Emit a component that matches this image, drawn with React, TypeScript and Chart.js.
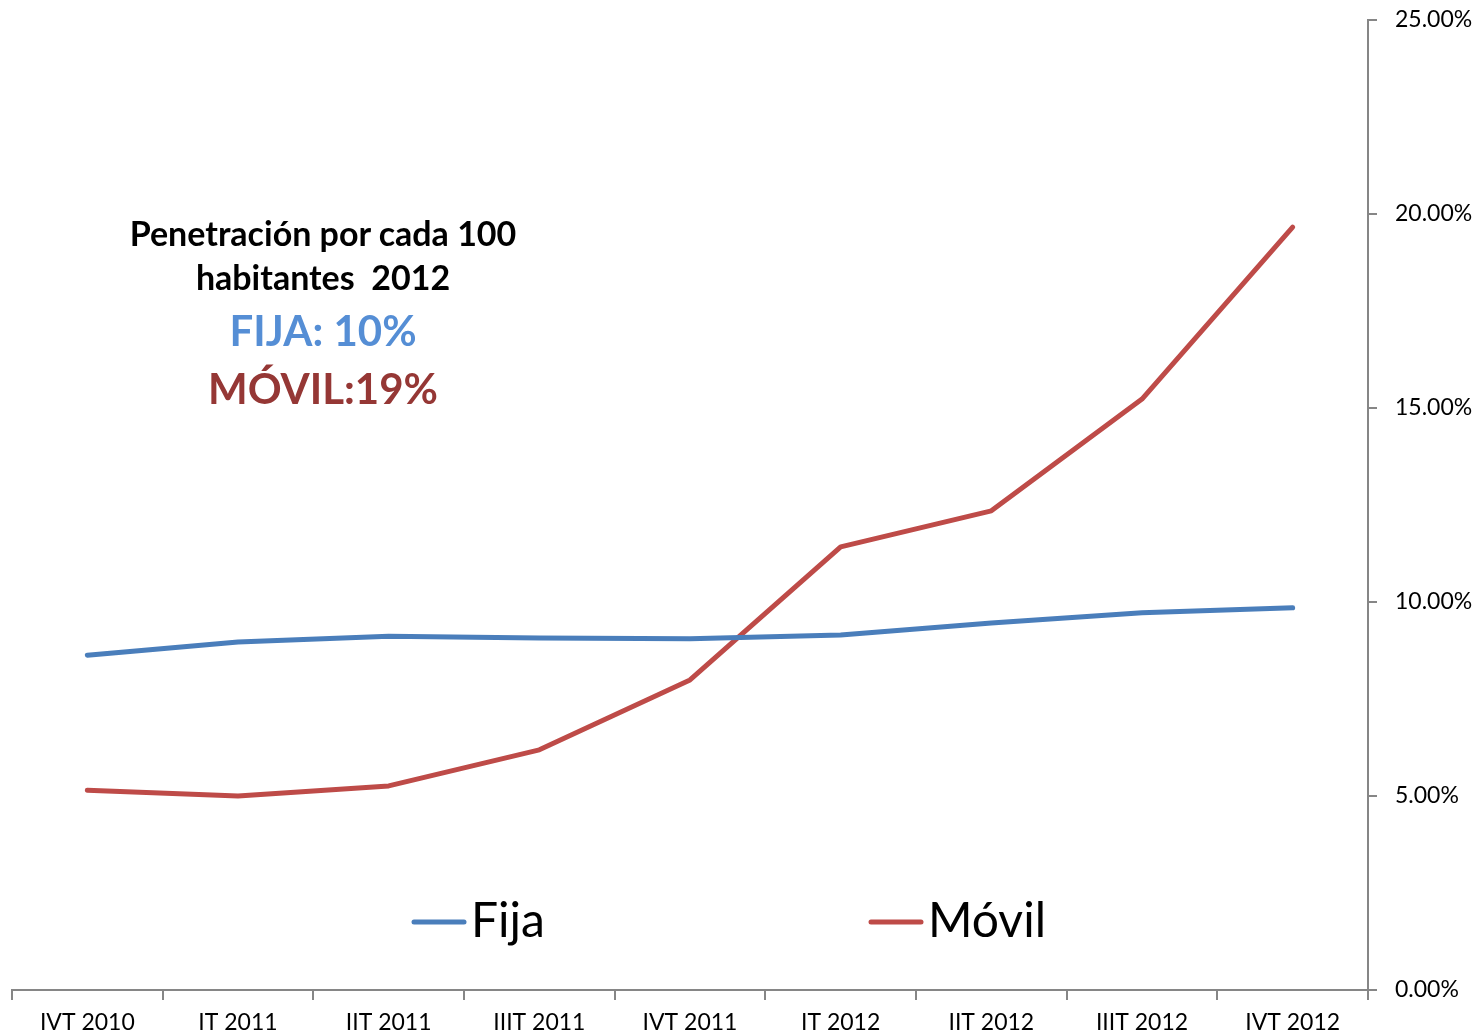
import React, { useEffect, useRef } from "react";
import { Chart, registerables } from "chart.js";

Chart.register(...registerables);

const categories = ["IVT 2010", "IT 2011", "IIT 2011", "IIIT 2011", "IVT 2011", "IT 2012", "IIT 2012", "IIIT 2012", "IVT 2012"];
const fijaValues = [8.63, 8.97, 9.12, 9.07, 9.05, 9.15, 9.46, 9.72, 9.85];
const movilValues = [5.15, 5.0, 5.26, 6.19, 7.99, 11.42, 12.35, 15.23, 19.66];
const seriesLabels = ["Fija", "Móvil"];
const yTicks = [0, 5, 10, 15, 20, 25];

const FONT = "Lato, 'Open Sans', sans-serif";

const insideLegend = {
  id: "insideLegend",
  afterDraw(chart: any) {
    const ctx = chart.ctx;
    const y = 922;
    const xs = [414, 871];
    ctx.save();
    chart.data.datasets.forEach((ds: any, i: number) => {
      const x = xs[i];
      ctx.strokeStyle = ds.borderColor;
      ctx.lineWidth = 5;
      ctx.lineCap = "round";
      ctx.beginPath();
      ctx.moveTo(x, y);
      ctx.lineTo(x + 50, y);
      ctx.stroke();
      ctx.fillStyle = "#000";
      ctx.font = `48px ${FONT}`;
      ctx.textBaseline = "middle";
      ctx.textAlign = "left";
      ctx.fillText(ds.label, x + 57, y);
    });
    ctx.restore();
  },
};

export default function App() {
  const ref = useRef<HTMLCanvasElement>(null);
  useEffect(() => {
    if (!ref.current) return;
    const chart = new Chart(ref.current, {
      type: "line",
      data: {
        labels: categories,
        datasets: [
          {
            label: seriesLabels[0],
            data: fijaValues,
            borderColor: "#4A7EBB",
            backgroundColor: "#4A7EBB",
            borderWidth: 5,
            borderCapStyle: "round",
            borderJoinStyle: "round",
            pointRadius: 0,
            tension: 0,
          },
          {
            label: seriesLabels[1],
            data: movilValues,
            borderColor: "#BE4B48",
            backgroundColor: "#BE4B48",
            borderWidth: 5,
            borderCapStyle: "round",
            borderJoinStyle: "round",
            pointRadius: 0,
            tension: 0,
          },
        ],
      },
      options: {
        animation: false,
        responsive: false,
        maintainAspectRatio: false,
        layout: { padding: { left: 12, top: 0, right: 0, bottom: 0 } },
        plugins: { legend: { display: false }, tooltip: { enabled: false } },
        scales: {
          x: {
            offset: true,
            afterFit(scale: any) {
              scale.height = 46;
              scale.paddingRight = 0;
              scale.paddingLeft = 0;
            },
            grid: {
              offset: true,
              drawOnChartArea: false,
              drawTicks: true,
              tickLength: 10,
              color: "#868686",
              lineWidth: 2,
            },
            border: { color: "#868686", width: 2 },
            ticks: {
              color: "#000",
              font: { family: FONT, size: 23 },
              maxRotation: 0,
              autoSkip: false,
              padding: 9,
            },
          },
          y: {
            position: "right",
            min: 0,
            max: 25,
            afterBuildTicks(scale: any) {
              scale.ticks = yTicks.map((v) => ({ value: v }));
            },
            afterFit(scale: any) {
              scale.width = 113;
              scale.paddingTop = 20;
              scale.paddingBottom = 0;
            },
            grid: {
              drawOnChartArea: false,
              drawTicks: true,
              tickLength: 9,
              color: "#868686",
              lineWidth: 2,
            },
            border: { color: "#868686", width: 2 },
            ticks: {
              color: "#000",
              font: { family: FONT, size: 23 },
              padding: 18,
              callback: (v: any) => Number(v).toFixed(2) + "%",
            },
          },
        },
      },
      plugins: [insideLegend],
    });
    return () => chart.destroy();
  }, []);

  const lineStyle: React.CSSProperties = {
    position: "absolute",
    left: 73,
    width: 500,
    textAlign: "center",
    fontFamily: FONT,
    fontWeight: 700,
    whiteSpace: "pre",
    lineHeight: 1,
  };

  return (
    <div style={{ position: "absolute", left: 0, top: 0, width: 1481, height: 1036, background: "#fff" }}>
      <canvas ref={ref} width={1481} height={1036} style={{ width: 1481, height: 1036, display: "block" }} />
      <div style={{ ...lineStyle, top: 216, fontSize: 34, color: "#000" }}>Penetración por cada 100</div>
      <div style={{ ...lineStyle, top: 260, fontSize: 34, color: "#000" }}>habitantes  2012</div>
      <div style={{ ...lineStyle, top: 309, fontSize: 42, color: "#558ED5" }}>FIJA: 10%</div>
      <div style={{ ...lineStyle, top: 367, fontSize: 42, color: "#953735" }}>MÓVIL:19%</div>
    </div>
  );
}
